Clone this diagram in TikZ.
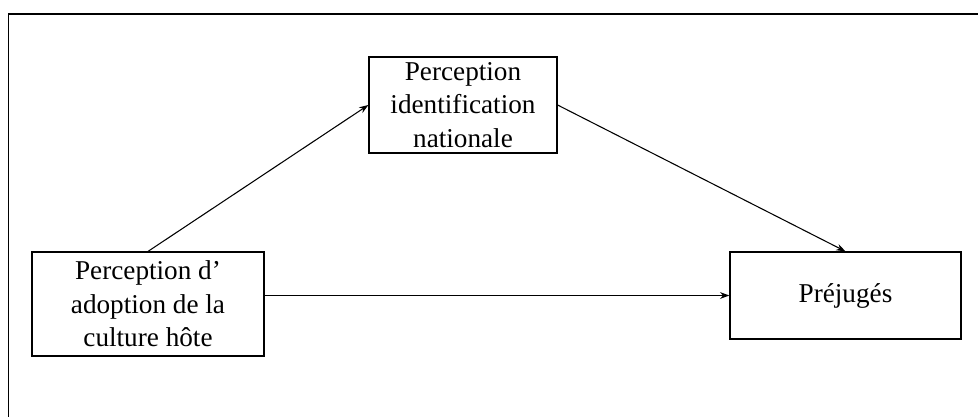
\documentclass[tikz,border=0pt]{standalone}
\usepackage{fontspec}
\setmainfont{Liberation Serif}
\usetikzlibrary{arrows.meta}

\tikzset{
    varbox/.style={draw, line width=0.9pt, align=center, inner sep=0pt,
        font=\fontsize{20.4}{25}\selectfont},
    arr/.style={line width=0.8pt, -{Stealth[length=7pt, width=5pt]}}
}

\begin{document}
\begin{tikzpicture}[x=0.75pt, y=-0.75pt]

    % Fix the page size (1 unit = 1 pixel of the reference)
    \useasboundingbox (0,0) rectangle (978,417);

    % Open frame: only top and left sides are visible
    \draw[line width=1.3pt] (978,14) -- (8.5,14) -- (8.5,417);

    % The three variables
    \node[varbox, minimum width=232*0.75pt, minimum height=104*0.75pt]
        (adopt) at (148,304) {Perception d’\\adoption de la\\culture hôte};
    \node[varbox, minimum width=188*0.75pt, minimum height=96*0.75pt]
        (ident) at (463,105) {Perception\\identification\\nationale};
    \node[varbox, minimum width=231*0.75pt, minimum height=87*0.75pt]
        (prej) at (845.5,295.5) {Préjugés};

    % Paths
    \draw[arr] (adopt.north) -- (ident.west);
    \draw[arr] (ident.east) -- (prej.north);
    \draw[arr] (prej.west -| adopt.east) -- (prej.west);

\end{tikzpicture}
\end{document}
